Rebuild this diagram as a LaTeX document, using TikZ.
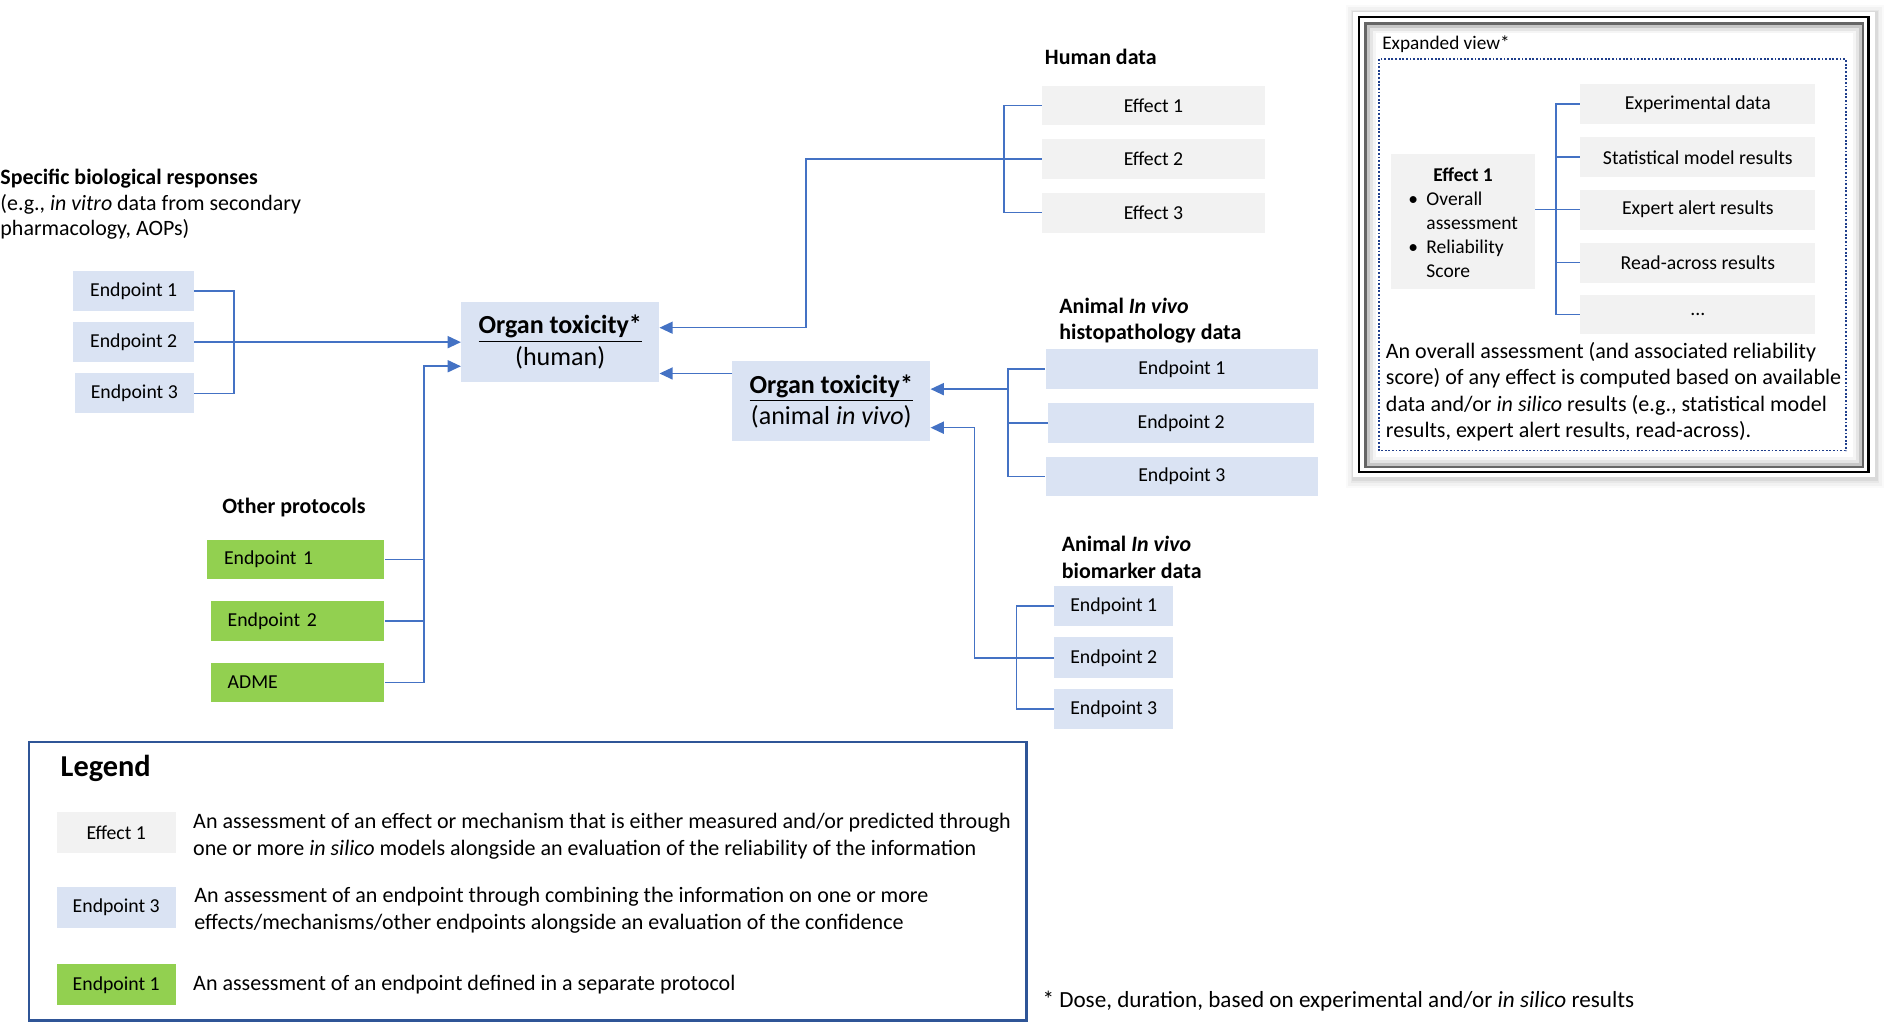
\documentclass[tikz,border=0pt]{standalone}
\usepackage{fontspec}
\setmainfont{Carlito}
\usetikzlibrary{arrows.meta}
\definecolor{boxblue}{HTML}{DAE3F3}
\definecolor{boxgray}{HTML}{F2F2F2}
\definecolor{boxgreen}{HTML}{92D050}
\definecolor{linkblue}{HTML}{4472C4}
\definecolor{legnavy}{HTML}{2F5597}
\definecolor{dotnavy}{HTML}{203F8C}
\newcommand\myfs[2]{\fontsize{#1}{#2}\selectfont}
\tikzset{
 boxbase/.style={inner sep=0pt, minimum height=16.5pt, font=\myfs{8.2}{10}},
 bluebox/.style={boxbase, fill=boxblue},
 graybox/.style={boxbase, fill=boxgray},
 greenbox/.style={boxbase, fill=boxgreen},
 leftgreen/.style={greenbox, text width=#1, align=left, inner xsep=7pt},
 organ/.style={inner sep=0pt, fill=boxblue, minimum width=82pt, minimum height=33pt, align=center, font=\myfs{10.8}{13}},
 link/.style={draw=linkblue, line width=0.65pt},
 arr/.style={link, -{Triangle[length=5.5pt,width=5pt]}},
 headtxt/.style={anchor=west, inner sep=0pt, align=left, font=\myfs{9.1}{11}\bfseries},
 bodytxt/.style={anchor=west, inner sep=0pt, align=left, font=\myfs{9.15}{11}},
}
\begin{document}
\begin{tikzpicture}[x=0.5pt,y=-0.5pt]
\useasboundingbox (0,0) rectangle (1568,847.5);

% ---------- expanded view frame ----------
\foreach \k/\op in {7/0.02,5/0.03,3/0.045,1.5/0.06}
  \fill[black,opacity=\op] (1123-\k+1,10-\k+1) rectangle (1556+\k+1,396+\k+2);
\fill[white] (1123,10) rectangle (1556,396);
\draw[black,line width=1pt] (1128,14) rectangle (1551,392);
\draw[black!60,line width=0.9pt] (1133.5,19.5) rectangle (1546.5,387.5);
\draw[black!22,line width=1.2pt] (1135.8,21.8) rectangle (1544.2,385.2);
\draw[black!10,line width=1.2pt] (1138.2,24.2) rectangle (1541.8,382.8);
\draw[black!4,line width=1.2pt] (1140.6,26.6) rectangle (1539.4,380.4);
\draw[dotnavy,line width=0.75pt,dash pattern=on 0.75pt off 0.75pt] (1144.5,49) rectangle (1532,374);

\node[anchor=west,inner sep=0pt,font=\myfs{8}{10}] (expt) at (1147,37) {Expanded view*};
\node[graybox, minimum width=59.5pt, minimum height=56pt] (ex1) at (1214.5,184) {};
\node[inner sep=0pt] (ex1txt) at (1214.5,186.5)
  {\myfs{8.1}{10}\begin{tabular}{@{}l@{\hspace{3.5pt}}l@{}}\multicolumn{2}{c}{\bfseries Effect 1}\\ \textbullet & Overall\\ & assessment\\ \textbullet & Reliability\\ & Score\end{tabular}};
\node[graybox, minimum width=97.5pt] (xd1) at (1409.3,86.5) {Experimental data};
\node[graybox, minimum width=97.5pt] (xd2) at (1409.3,130.5) {Statistical model results};
\node[graybox, minimum width=97.5pt] (xd3) at (1409.3,174) {Expert alert results};
\node[graybox, minimum width=97.5pt] (xd4) at (1409.3,218) {Read-across results};
\node[graybox, minimum width=97.5pt] (xd5) at (1409.3,261) {...};
\draw[link] (xd1.west) -- ++(-19.6,0) |- (xd5.west);
\draw[link] (xd2.west) -- ++(-19.6,0);
\draw[link] (xd4.west) -- ++(-19.6,0);
\draw[link] (ex1.east |- xd3.west) -- (xd3.west);
\node[bodytxt] (expara) at (1150,325) {An overall assessment (and associated reliability\\score) of any effect is computed based on available\\data and/or \textit{in silico} results (e.g., statistical model\\results, expert alert results, read-across).};

% ---------- left group ----------
\node[headtxt, font=\myfs{9.1}{10.75}] (spec) at (0,169.5) {\textbf{Specific biological responses}\\\mdseries(e.g., \textit{in vitro} data from secondary\\pharmacology, AOPs)};
\node[bluebox, minimum width=50pt] (lE1) at (111,241.5) {Endpoint 1};
\node[bluebox, minimum width=50pt] (lE2) at (111,284) {Endpoint 2};
\node[bluebox, minimum width=49.5pt] (lE3) at (111.5,326.5) {Endpoint 3};

% ---------- organ toxicity ----------
\node[organ] (human) at (465,284) {\underline{\textbf{Organ toxicity*}}\\(human)};
\node[organ] (animal) at (690,333) {\underline{\textbf{Organ toxicity*}}\\(animal \textit{in vivo})};

\draw[link] (lE1.east) -- ++(33,0) |- (lE3.east);
\draw[arr] (lE2.east) -- (human.west);

% ---------- human data ----------
\node[headtxt] (hdt) at (867,47) {Human data};
\node[graybox, minimum width=92.5pt] (ef1) at (957.5,87.5) {Effect 1};
\node[graybox, minimum width=92.5pt] (ef2) at (957.5,132) {Effect 2};
\node[graybox, minimum width=92.5pt] (ef3) at (957.5,176.5) {Effect 3};
\draw[link] (ef1.west) -- ++(-31,0) |- (ef3.west);
\coordinate (hj) at (669,272);
\draw[arr] (ef2.west) -- ++(-31,0) -| (hj) -- (human.east |- hj);

% animal -> human
\coordinate (a2h) at (608,310);
\draw[arr] (a2h) -- (human.east |- a2h);

% ---------- histopathology ----------
\node[headtxt] (histt) at (879,266) {Animal \textit{In vivo}\\histopathology data};
\node[bluebox, minimum width=113pt] (hE1) at (981,306.5) {Endpoint 1};
\node[bluebox, minimum width=110.5pt] (hE2) at (980.5,351) {Endpoint 2};
\node[bluebox, minimum width=113pt] (hE3) at (981,395.5) {Endpoint 3};
\draw[link] (hE1.west) -- ++(-31,0) |- (hE3.west);
\draw[link] (hE2.west) -- ++(-33,0);
\coordinate (hj2) at (837,323);
\draw[arr] (hj2) -- (animal.east |- hj2);

% ---------- biomarker ----------
\node[headtxt] (biot) at (881,462.5) {Animal \textit{In vivo}\\biomarker data};
\node[bluebox, minimum width=49.5pt, minimum height=17pt] (bE1) at (924.5,503) {Endpoint 1};
\node[bluebox, minimum width=49.5pt, minimum height=17pt] (bE2) at (924.5,546) {Endpoint 2};
\node[bluebox, minimum width=49.5pt, minimum height=17pt] (bE3) at (924.5,588.5) {Endpoint 3};
\draw[link] (bE1.west) -- ++(-31,0) |- (bE3.west);
\coordinate (bj) at (809,355);
\draw[arr] (bE2.west) -| (bj) -- (animal.east |- bj);

% ---------- other protocols ----------
\node[headtxt, anchor=center] (otht) at (244,421) {Other protocols};
\node[leftgreen=59.5pt] (gE1) at (245.5,464.5) {Endpoint 1};
\node[leftgreen=58pt] (gE2) at (247,515.5) {Endpoint 2};
\node[leftgreen=58pt] (gA) at (247,566.5) {ADME};
\coordinate (oj) at (352,304);
\draw[link] (gE1.east) -- ++(33,0);
\draw[link] (gE2.east) -- ++(33,0);
\draw[arr] (gA.east) -| (oj) -- (human.west |- oj);

% ---------- legend ----------
\node[draw=legnavy, line width=1pt, minimum width=414pt, minimum height=115.5pt, inner sep=0pt] (legend) at (438,731.5) {};
\node[anchor=west, inner sep=0pt, font=\myfs{12.6}{14}\bfseries] (legt) at (50,638) {Legend};
\node[graybox, minimum width=49.5pt, minimum height=17pt] (lgE) at (96.5,691) {Effect 1};
\node[bluebox, minimum width=49.5pt, minimum height=17pt] (lgB) at (96.5,753) {Endpoint 3};
\node[greenbox, minimum width=49.5pt, minimum height=17pt] (lgG) at (96.5,817.5) {Endpoint 1};
\node[bodytxt] (lgt1) at (160,694) {An assessment of an effect or mechanism that is either measured and/or predicted through\\one or more \textit{in silico} models alongside an evaluation of the reliability of the information};
\node[bodytxt] (lgt2) at (161,755.5) {An assessment of an endpoint through combining the information on one or more\\effects/mechanisms/other endpoints alongside an evaluation of the confidence};
\node[bodytxt] (lgt3) at (160,817) {An assessment of an endpoint defined in a separate protocol};

\node[bodytxt, font=\myfs{9.6}{11}] (foot) at (865,831) {* Dose, duration, based on experimental and/or \textit{in silico} results};
\end{tikzpicture}
\end{document}
